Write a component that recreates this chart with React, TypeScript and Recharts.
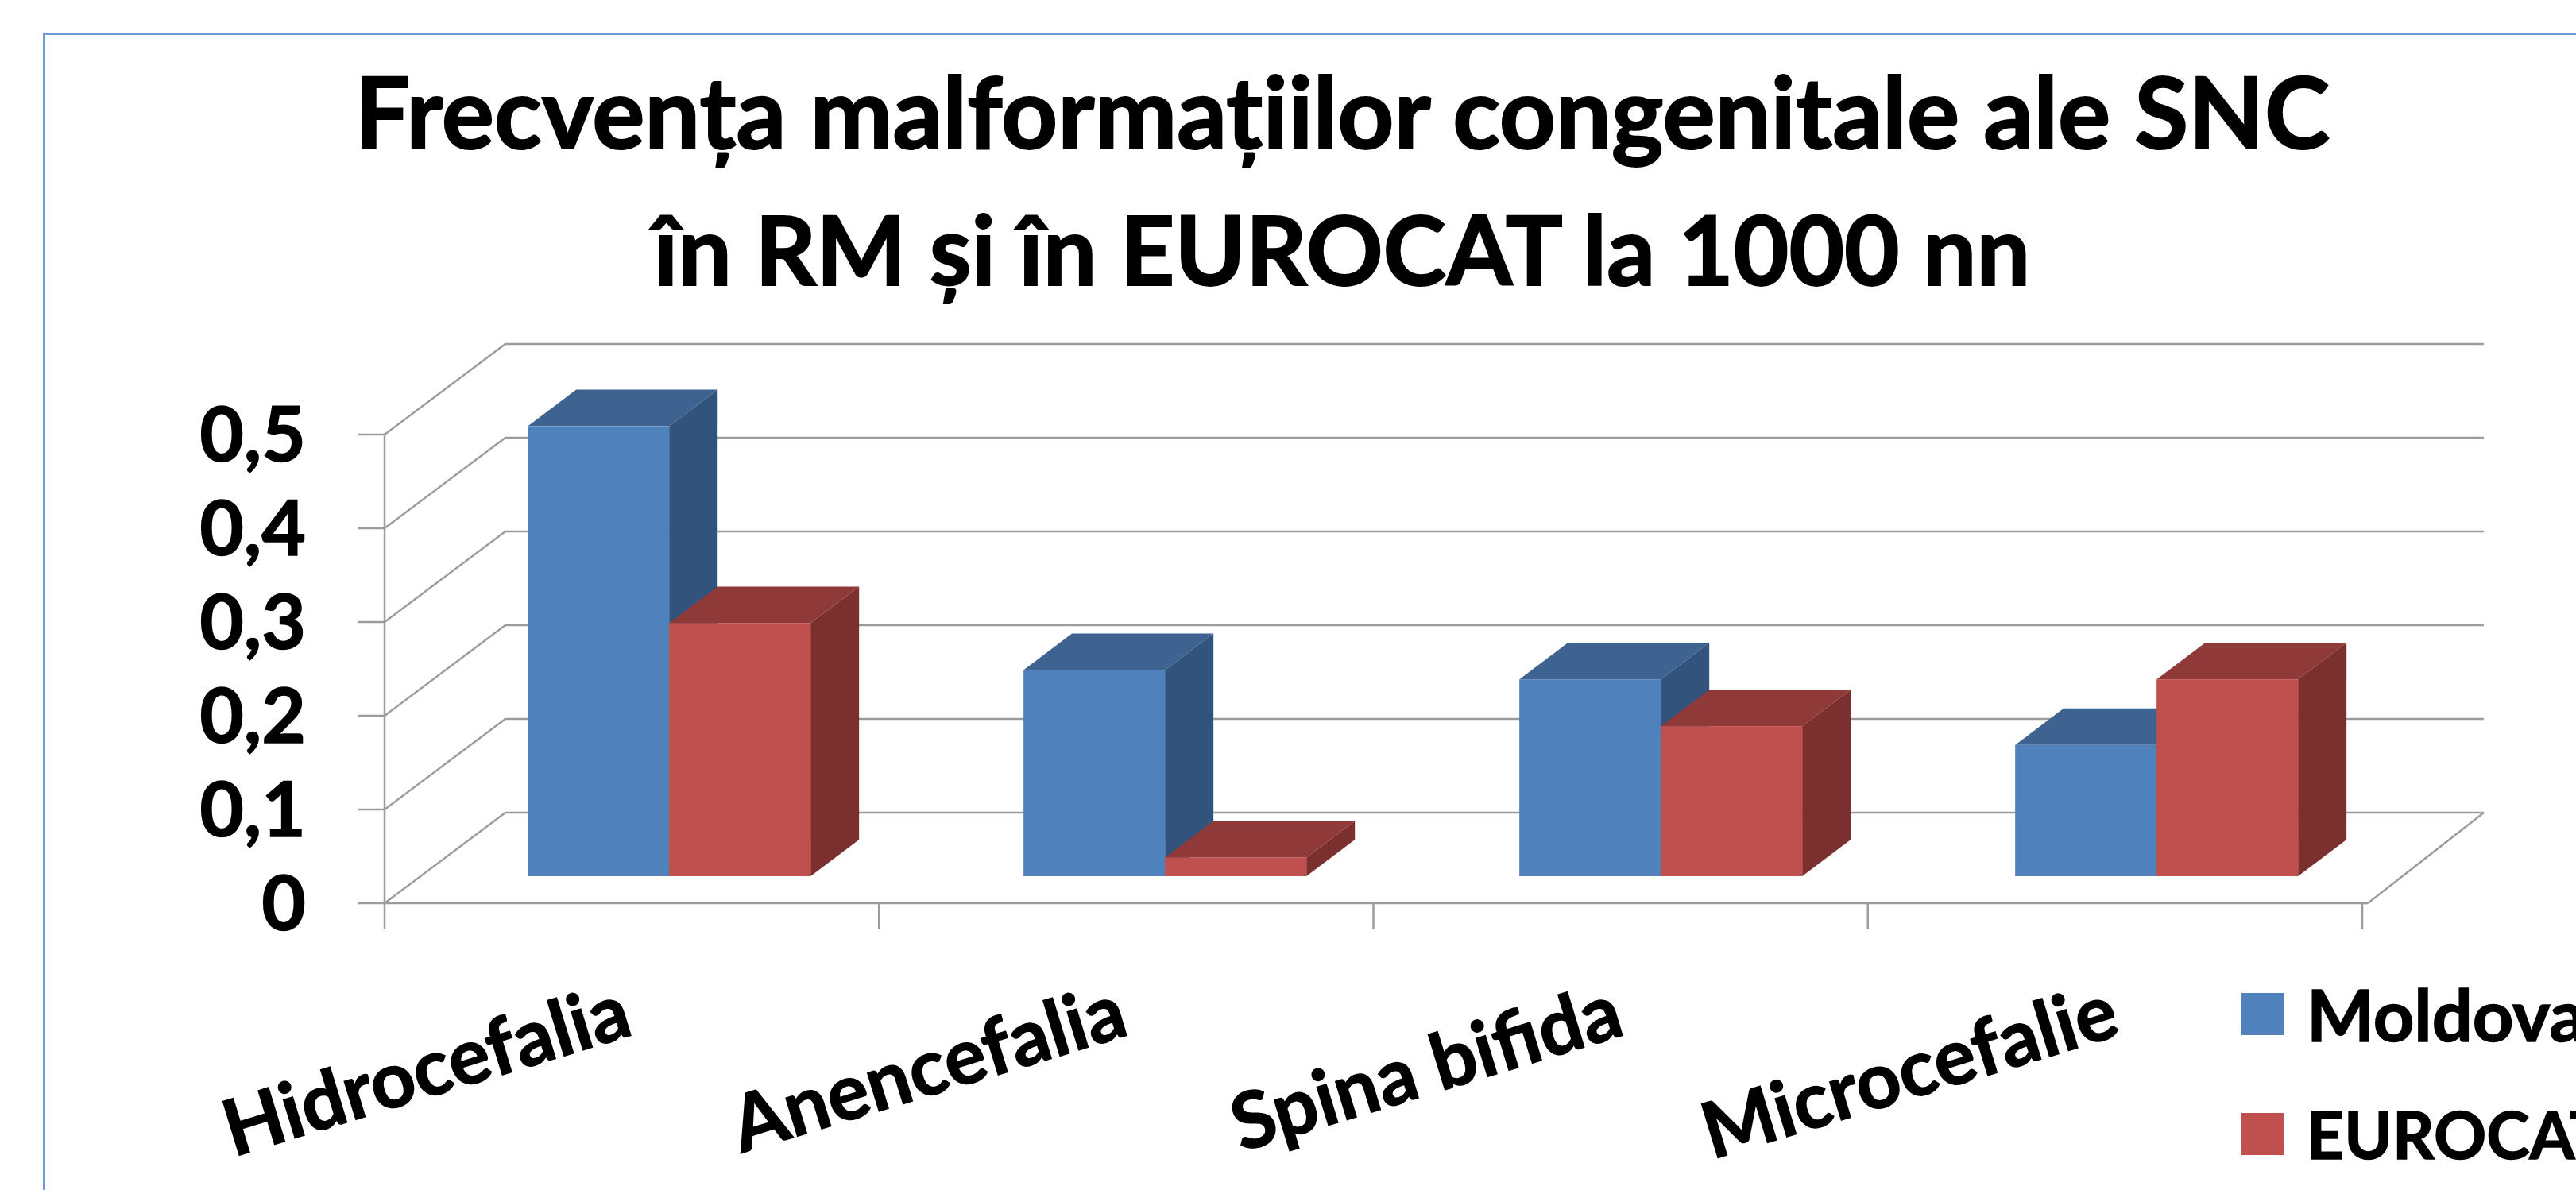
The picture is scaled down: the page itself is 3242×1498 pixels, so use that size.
import React from 'react';
import { Bar, BarChart, CartesianGrid, Legend, XAxis, YAxis } from 'recharts';

const categories = ['Hidrocefalia', 'Anencefalia', 'Spina bifida', 'Microcefalie'];
const moldova = [0.48, 0.22, 0.21, 0.14];
const eurocat = [0.27, 0.02, 0.16, 0.21];
const yTicks = [0, 0.1, 0.2, 0.3, 0.4, 0.5];
const titleLines = ['Frecvența malformațiilor congenitale ale SNC', 'în RM și în EUROCAT la 1000 nn'];

const data = categories.map((name, i) => ({ name, Moldova: moldova[i], EUROCAT: eurocat[i] }));

const FONT = 'Lato, sans-serif';
const GRID = '#9c9c9c';
const PLOT_LEFT = 484;
const PLOT_BOTTOM = 1137;
const TICK_STEP = 622.25;
const WALL_DX = 152;
const WALL_DY = 114;
const WALL_RIGHT = 3126;
const BAR_DX = 61;
const BAR_DY = 46;
// bars stand partway into the floor, not on its front edge
const INSET_DX = 46;
const INSET_DY = 34;
// Lato capitals run wider than the original font, so the caps-heavy lines get a smaller size
const TITLE_SIZES = [124, 120];
const LEGEND_SIZES = [90, 82];

function Box3D(props: any) {
  const { x, y, width, height, fill, topFill, sideFill } = props;
  const l = x + INSET_DX;
  const r = l + width;
  const t = y - INSET_DY;
  const b = t + height;
  return (
    <g>
      <polygon points={`${r},${t} ${r + BAR_DX},${t - BAR_DY} ${r + BAR_DX},${b - BAR_DY} ${r},${b}`} fill={sideFill} />
      <polygon points={`${l},${t} ${l + BAR_DX},${t - BAR_DY} ${r + BAR_DX},${t - BAR_DY} ${r},${t}`} fill={topFill} />
      <rect x={l} y={t} width={width} height={height} fill={fill} />
    </g>
  );
}

function WallLine(props: any) {
  const { x1, x2, y1, index } = props;
  const isFloor = Math.abs(y1 - PLOT_BOTTOM) < 1;
  return (
    <g key={`wall-${index}`} stroke={GRID} strokeWidth={2.5} fill="none">
      <path d={`M${x1},${y1} L${x1 + WALL_DX},${y1 - WALL_DY} L${WALL_RIGHT},${y1 - WALL_DY}`} />
      {isFloor && <path d={`M${WALL_RIGHT},${y1 - WALL_DY} L${x2},${y1}`} />}
    </g>
  );
}

// tick marks sit between the categories, so they are drawn along with the labels
function CategoryTick(props: any) {
  const { x, payload, index } = props;
  const tickX = PLOT_LEFT + index * TICK_STEP;
  const labelX = x + 3;
  const labelY = 1302;
  return (
    <g>
      <line x1={tickX} x2={tickX} y1={PLOT_BOTTOM} y2={PLOT_BOTTOM + 33} stroke={GRID} strokeWidth={2.5} />
      {index === categories.length - 1 && (
        <line x1={tickX + TICK_STEP} x2={tickX + TICK_STEP} y1={PLOT_BOTTOM} y2={PLOT_BOTTOM + 33} stroke={GRID} strokeWidth={2.5} />
      )}
      <text
        x={labelX}
        y={labelY}
        transform={`rotate(-17 ${labelX} ${labelY})`}
        textAnchor="end"
        fontFamily={FONT}
        fontWeight={700}
        fontSize={98}
        fill="#000"
        stroke="#000"
        strokeWidth={1.5}
      >
        {payload.value}
      </text>
    </g>
  );
}

function LegendBlock(props: any) {
  const items = props.payload ?? [];
  return (
    <div>
      {items.map((item: any, i: number) => (
        <div key={item.value} style={{ display: 'flex', alignItems: 'center', height: 53, marginBottom: 98, whiteSpace: 'nowrap' }}>
          <span style={{ width: 53, height: 53, background: item.color, marginRight: 29, flex: 'none' }} />
          <span style={{ fontFamily: FONT, fontWeight: 700, fontSize: LEGEND_SIZES[i], lineHeight: '53px', color: '#000', WebkitTextStroke: '1.5px #000' }}>{item.value}</span>
        </div>
      ))}
    </div>
  );
}

export default function App() {
  return (
    <div style={{ position: 'fixed', left: 0, top: 0, width: 3242, height: 1498, overflow: 'hidden', background: '#fff' }}>
      <div style={{ position: 'absolute', left: 54, top: 41, width: 3400, height: 1600, border: '3px solid #6d9ad6' }} />
      <div style={{ position: 'absolute', left: 0, top: 52, width: 3378, textAlign: 'center', fontFamily: FONT, fontWeight: 700, lineHeight: '174px', color: '#000', WebkitTextStroke: '2px #000' }}>
        {titleLines.map((line, i) => (
          <div key={line} style={{ fontSize: TITLE_SIZES[i] }}>{line}</div>
        ))}
      </div>
      <div style={{ position: 'absolute', left: 0, top: 0 }}>
        <BarChart
          width={3242}
          height={1498}
          data={data}
          margin={{ top: 547, right: 262, bottom: 0, left: 0 }}
          barCategoryGap="21.5%"
          barGap={0}
        >
          <CartesianGrid horizontal={WallLine} vertical={false} />
          <XAxis dataKey="name" height={361} tickSize={33} interval={0} stroke={GRID} strokeWidth={2.5} tick={CategoryTick} tickLine={false} />
          <YAxis
            width={PLOT_LEFT}
            domain={[0, 0.5]}
            ticks={yTicks}
            tickSize={33}
            tickMargin={66}
            stroke={GRID}
            strokeWidth={2.5}
            tickLine={{ stroke: GRID, strokeWidth: 2.5 }}
            tickFormatter={(v: number) => String(v).replace('.', ',')}
            tick={{ fontFamily: FONT, fontWeight: 700, fontSize: 96, fill: '#000', stroke: '#000', strokeWidth: 1.5 }}
          />
          <Legend
            layout="vertical"
            align="center"
            verticalAlign="middle"
            itemSorter={null}
            content={LegendBlock}
            wrapperStyle={{ left: 2821, top: 1250, width: 600, margin: 0 }}
          />
          <Bar dataKey="Moldova" fill="#4F81BD" isAnimationActive={false} shape={(p: any) => <Box3D {...p} topFill="#3E6390" sideFill="#32537B" />} />
          <Bar dataKey="EUROCAT" fill="#C0504D" isAnimationActive={false} shape={(p: any) => <Box3D {...p} topFill="#8F3A38" sideFill="#7B2F2E" />} />
        </BarChart>
      </div>
    </div>
  );
}
